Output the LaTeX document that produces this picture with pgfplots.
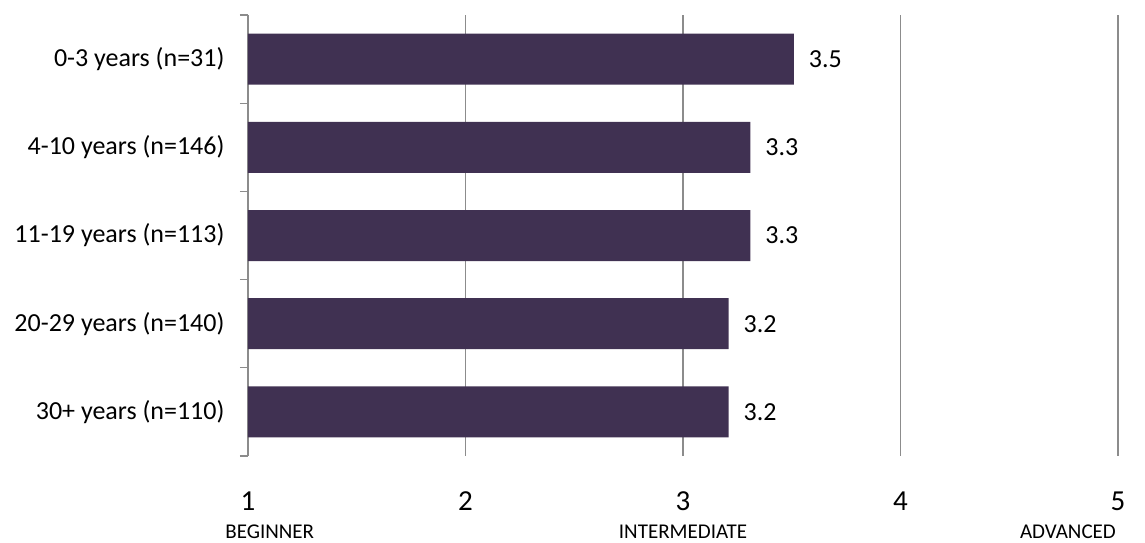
\documentclass[border=0pt]{standalone}
\usepackage{pgfplots}
\pgfplotsset{compat=1.18}
\usepackage{fontspec}
\setmainfont{Carlito}
\definecolor{barc}{HTML}{403152}
\definecolor{gridc}{HTML}{8C8C8C}
\begin{document}
\begin{tikzpicture}
\useasboundingbox (-124bp,-43.5bp) rectangle (448.5bp,228bp);
\begin{axis}[
  at={(0,0)}, anchor=south west,
  scale only axis, width=435bp, height=220.5bp,
  xmin=1, xmax=5, ymin=-0.5, ymax=4.5, y dir=reverse,
  xbar, bar width=25.5bp, bar shift=0pt,
  axis y line*=left, axis x line*=bottom,
  x axis line style={draw=none},
  y axis line style={draw=gridc, line width=0.6pt},
  xtick={1,2,3,4,5}, xmajorgrids, major grid style={gridc, line width=0.6pt},
  major x tick style={draw=none},
  xticklabel style={yshift=-10bp, font=\fontsize{14.5bp}{16bp}\selectfont},
  /pgf/number format/assume math mode=true,
  ytick={0,1,2,3,4},
  yticklabels={0-3 years (n=31),4-10 years (n=146),11-19 years (n=113),20-29 years (n=140),30+ years (n=110)},
  major y tick style={draw=none},
  minor ytick={-0.5,0.5,1.5,2.5,3.5,4.5},
  minor tick length=4bp, tick align=outside,
  minor y tick style={draw=gridc, line width=0.6pt},
  yticklabel style={font=\fontsize{13bp}{15bp}\selectfont, xshift=-4bp},
  nodes near coords,
  nodes near coords style={anchor=west, xshift=4bp, font=\fontsize{13bp}{15bp}\selectfont, /pgf/number format/fixed, /pgf/number format/precision=1, /pgf/number format/fixed zerofill},
  clip=false,
]
\addplot[fill=barc, draw=none] coordinates {(3.51,0) (3.31,1) (3.31,2) (3.21,3) (3.21,4)};
\node[font=\fontsize{10.5bp}{12bp}\selectfont] at (axis cs:1.1,5.36) {BEGINNER};
\node[font=\fontsize{10.5bp}{12bp}\selectfont] at (axis cs:3.0,5.36) {INTERMEDIATE};
\node[font=\fontsize{10.5bp}{12bp}\selectfont] at (axis cs:4.77,5.36) {ADVANCED};
\end{axis}
\end{tikzpicture}
\end{document}
